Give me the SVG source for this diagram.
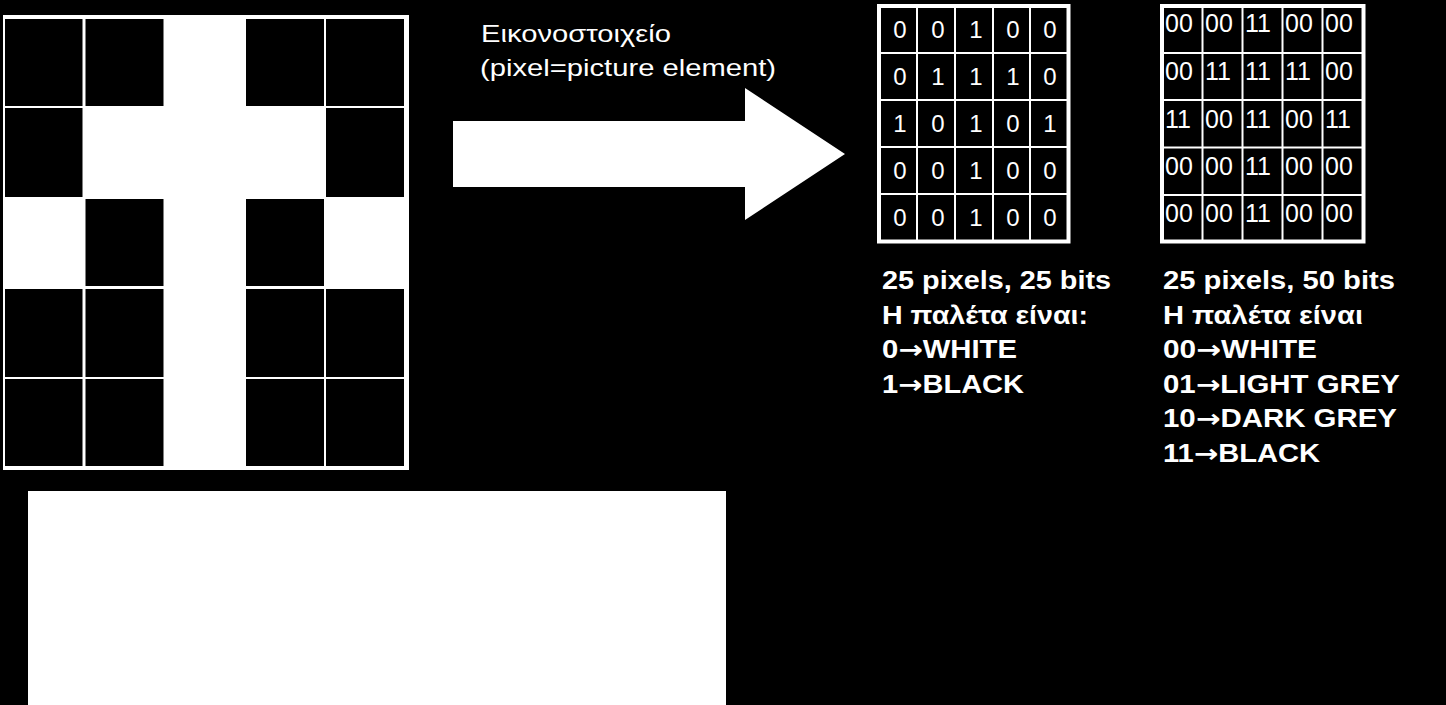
<svg xmlns="http://www.w3.org/2000/svg" width="1446" height="705" viewBox="0 0 1446 705">
<style>
.t{font-family:"Liberation Sans",Arial,sans-serif;fill:#fff}
.b{font-weight:bold;font-size:25px}
.r{font-size:24px}
.d1{font-size:24px;text-anchor:middle}
.d2{font-size:25px}
.ar{font-family:"DejaVu Sans",sans-serif;font-weight:bold}
.blk{fill:#000}
.frame{fill:none;stroke:#fff;stroke-width:4}
.ln{stroke:#fff;stroke-width:2}
</style>
<rect x="0" y="0" width="1446" height="705" fill="#000"/>

<g id="pixel-grid">
<rect x="3" y="15" width="406" height="455" fill="#fff"/>
<g class="blk">
<rect x="5" y="19" width="77.5" height="87"/>
<rect x="85.5" y="19" width="78" height="87"/>
<rect x="246" y="19" width="78" height="87"/>
<rect x="326" y="19" width="78" height="87"/>
<rect x="5" y="108" width="77.5" height="89"/>
<rect x="326" y="108" width="78" height="89"/>
<rect x="85.5" y="199" width="78" height="87"/>
<rect x="246" y="199" width="78" height="87"/>
<rect x="5" y="289" width="77.5" height="88"/>
<rect x="85.5" y="289" width="78" height="88"/>
<rect x="246" y="289" width="78" height="88"/>
<rect x="326" y="289" width="78" height="88"/>
<rect x="5" y="379" width="77.5" height="87"/>
<rect x="85.5" y="379" width="78" height="87"/>
<rect x="246" y="379" width="78" height="87"/>
<rect x="326" y="379" width="78" height="87"/>
</g>
</g>

<g id="blank-box">
<rect x="28" y="491" width="698" height="214" fill="#fff"/>
</g>

<g id="label">
<text class="t r" x="481" y="42" textLength="190" lengthAdjust="spacingAndGlyphs">Εικονοστοιχείο</text>
<text class="t r" x="480" y="76" textLength="296" lengthAdjust="spacingAndGlyphs">(pixel=picture element)</text>
</g>

<g id="connectors">
<polygon points="453,121 745,121 745,88 845,154 745,220 745,187 453,187" fill="#fff"/>
</g>

<g id="table-1bit">
<rect class="frame" x="879" y="6" width="189.5" height="235.5"/>
<g class="ln">
<line x1="917" y1="6" x2="917" y2="241.5"/>
<line x1="955" y1="6" x2="955" y2="241.5"/>
<line x1="993" y1="6" x2="993" y2="241.5"/>
<line x1="1030" y1="6" x2="1030" y2="241.5"/>
<line x1="879" y1="53" x2="1068.5" y2="53"/>
<line x1="879" y1="100" x2="1068.5" y2="100"/>
<line x1="879" y1="147" x2="1068.5" y2="147"/>
<line x1="879" y1="194" x2="1068.5" y2="194"/>
</g>
<g class="t d1">
<text x="900" y="38">0</text><text x="938" y="38">0</text><text x="976" y="38">1</text><text x="1013" y="38">0</text><text x="1050" y="38">0</text>
<text x="900" y="85">0</text><text x="938" y="85">1</text><text x="976" y="85">1</text><text x="1013" y="85">1</text><text x="1050" y="85">0</text>
<text x="900" y="132">1</text><text x="938" y="132">0</text><text x="976" y="132">1</text><text x="1013" y="132">0</text><text x="1050" y="132">1</text>
<text x="900" y="179">0</text><text x="938" y="179">0</text><text x="976" y="179">1</text><text x="1013" y="179">0</text><text x="1050" y="179">0</text>
<text x="900" y="226">0</text><text x="938" y="226">0</text><text x="976" y="226">1</text><text x="1013" y="226">0</text><text x="1050" y="226">0</text>
</g>
</g>

<g id="table-2bit">
<rect class="frame" x="1162" y="6" width="201.5" height="235.5"/>
<g class="ln">
<line x1="1202.5" y1="6" x2="1202.5" y2="241.5"/>
<line x1="1242.5" y1="6" x2="1242.5" y2="241.5"/>
<line x1="1282.5" y1="6" x2="1282.5" y2="241.5"/>
<line x1="1322.5" y1="6" x2="1322.5" y2="241.5"/>
<line x1="1162" y1="53" x2="1363.5" y2="53"/>
<line x1="1162" y1="100" x2="1363.5" y2="100"/>
<line x1="1162" y1="147.5" x2="1363.5" y2="147.5"/>
<line x1="1162" y1="195" x2="1363.5" y2="195"/>
</g>
<g class="t d2">
<text x="1165" y="32">00</text><text x="1205" y="32">00</text><text x="1245" y="32">11</text><text x="1285" y="32">00</text><text x="1325" y="32">00</text>
<text x="1165" y="80">00</text><text x="1205" y="80">11</text><text x="1245" y="80">11</text><text x="1285" y="80">11</text><text x="1325" y="80">00</text>
<text x="1165" y="128">11</text><text x="1205" y="128">00</text><text x="1245" y="128">11</text><text x="1285" y="128">00</text><text x="1325" y="128">11</text>
<text x="1165" y="175">00</text><text x="1205" y="175">00</text><text x="1245" y="175">11</text><text x="1285" y="175">00</text><text x="1325" y="175">00</text>
<text x="1165" y="222">00</text><text x="1205" y="222">00</text><text x="1245" y="222">11</text><text x="1285" y="222">00</text><text x="1325" y="222">00</text>
</g>
</g>

<g id="caption-1bit" class="t b">
<text x="882" y="289" textLength="229" lengthAdjust="spacingAndGlyphs">25 pixels, 25 bits</text>
<text x="882" y="324" textLength="206" lengthAdjust="spacingAndGlyphs">Η παλέτα είναι:</text>
<text x="882" y="358" textLength="135" lengthAdjust="spacingAndGlyphs">0<tspan class="ar">→</tspan>WHITE</text>
<text x="882" y="393" textLength="142" lengthAdjust="spacingAndGlyphs">1<tspan class="ar">→</tspan>BLACK</text>
</g>

<g id="caption-2bit" class="t b">
<text x="1163" y="289" textLength="232" lengthAdjust="spacingAndGlyphs">25 pixels, 50 bits</text>
<text x="1163" y="324" textLength="200" lengthAdjust="spacingAndGlyphs">Η παλέτα είναι</text>
<text x="1163" y="358" textLength="154" lengthAdjust="spacingAndGlyphs">00<tspan class="ar">→</tspan>WHITE</text>
<text x="1163" y="393" textLength="237" lengthAdjust="spacingAndGlyphs">01<tspan class="ar">→</tspan>LIGHT GREY</text>
<text x="1163" y="427" textLength="234" lengthAdjust="spacingAndGlyphs">10<tspan class="ar">→</tspan>DARK GREY</text>
<text x="1163" y="462" textLength="157" lengthAdjust="spacingAndGlyphs">11<tspan class="ar">→</tspan>BLACK</text>
</g>
</svg>
